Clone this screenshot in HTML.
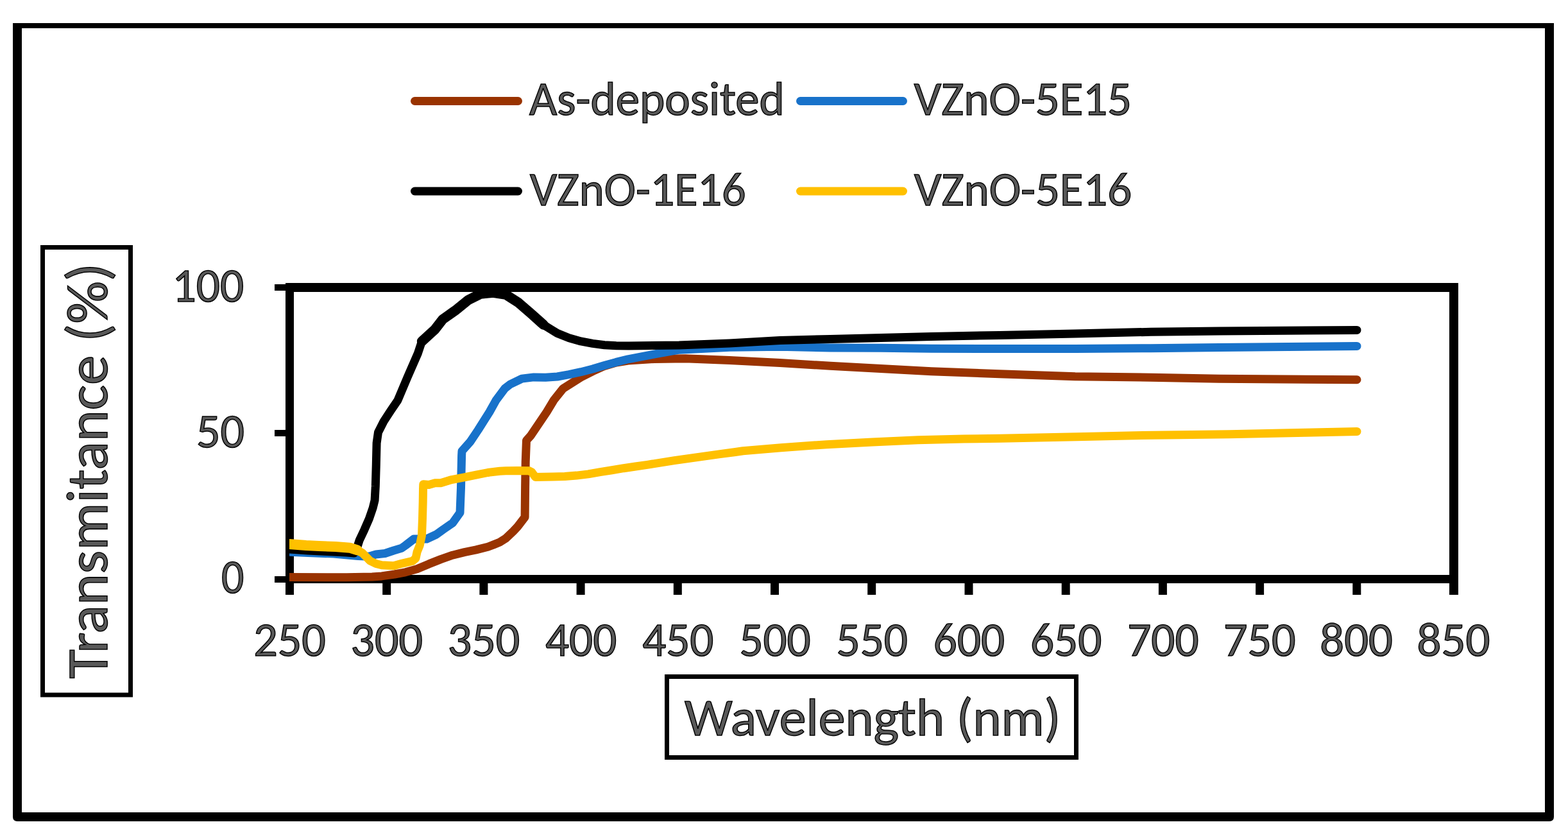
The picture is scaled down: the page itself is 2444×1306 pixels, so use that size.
<!DOCTYPE html>
<html><head><meta charset="utf-8"><title>Transmitance chart</title><style>html,body{margin:0;padding:0;background:#fff;overflow:hidden}svg{display:block}</style></head><body>
<svg width="2444" height="1306" viewBox="0 0 2444 1306">
<rect width="2444" height="1306" fill="#fff"/>
<path fill-rule="evenodd" fill="#000" d="M20,36 H2422 V1273 Q2422,1280 2415,1280 H27 Q20,1280 20,1273 Z M34,44 V1266 H2408 V44 Z"/>
<g stroke-linecap="round" stroke-width="13" fill="none">
<line x1="646.5" y1="157.5" x2="807.5" y2="157.5" stroke="#993300"/>
<line x1="1247.5" y1="157.5" x2="1407.5" y2="157.5" stroke="#1872CA"/>
<line x1="646.5" y1="298" x2="807.5" y2="298" stroke="#000000"/>
<line x1="1247.5" y1="298" x2="1407.5" y2="298" stroke="#FFC000"/>
</g>
<rect x="66.5" y="385.5" width="137" height="697.5" fill="none" stroke="#000" stroke-width="7"/>
<rect x="1039.5" y="1054.5" width="638" height="126" fill="none" stroke="#000" stroke-width="7"/>
<g fill="#000">
<rect x="445" y="441" width="1828" height="14"/>
<rect x="445" y="896" width="1828" height="13"/>
<rect x="445" y="441" width="13" height="486"/>
<rect x="2259" y="441" width="14" height="486"/>
<rect x="428" y="443" width="17" height="10"/>
<rect x="428" y="670" width="17" height="10"/>
<rect x="428" y="898" width="17" height="10"/>
<rect x="596.2" y="909" width="13" height="18"/>
<rect x="747.4" y="909" width="13" height="18"/>
<rect x="898.6" y="909" width="13" height="18"/>
<rect x="1049.8" y="909" width="13" height="18"/>
<rect x="1201.0" y="909" width="13" height="18"/>
<rect x="1352.2" y="909" width="13" height="18"/>
<rect x="1503.5" y="909" width="13" height="18"/>
<rect x="1654.7" y="909" width="13" height="18"/>
<rect x="1805.9" y="909" width="13" height="18"/>
<rect x="1957.1" y="909" width="13" height="18"/>
<rect x="2108.3" y="909" width="13" height="18"/>
</g>
<defs><clipPath id="pc"><rect x="451" y="400" width="1820" height="520"/></clipPath></defs>
<g clip-path="url(#pc)" fill="none" stroke-width="13" stroke-linecap="round" stroke-linejoin="round">
<polyline stroke="#993300" points="451,899.5 540,899.7 580,899 595,897.9 615,895 632,891.8 650,886.8 668.6,878.9 687,871.6 705.4,865.2 723.8,860.6 742.1,856.9 760.5,852.3 770,848.6 778.9,845 788.4,839 800,828 806.8,820.7 818.1,806 818.6,760 819.2,720 820.5,686.5 827.3,678.9 852.1,642.1 863.1,623.8 877.8,605.4 905.4,588 923.8,578.7 942.1,570.4 960.5,565 978.9,562 1019.3,559.5 1068.4,558.8 1137.1,561.5 1215.7,565.4 1294.2,570.3 1372.8,574.5 1451.4,578.8 1557.8,582.7 1675.7,586.8 1793.5,588.2 1900,590.3 2115,591.7"/>
<polyline stroke="#1872CA" points="451,860.3 480,861.5 520,863 558,866.5 575,867.3 586,864 600,862.5 613.5,858 626,854.3 632,850 645,840 665,840 680,833 691.1,825 705.4,815.2 712,806 717,799 718.5,760 719.6,710 720,703 733,688.4 745.3,670 763,642 773.1,623.8 786.9,605.4 795.1,599 813.5,590.1 831.9,587.9 850.3,588.3 868.6,587 887,583.7 905.4,579.7 923.8,575 942.1,569.5 960.5,564.4 978.9,559.8 1019.3,552.1 1058.6,545.2 1137.1,541.3 1215.7,540.3 1294.2,541.9 1372.8,542.3 1451.4,543.2 1557.8,543.6 1675.7,543.6 1793.5,542.7 1900,541.5 2115,539.4"/>
<polyline stroke="#000000" points="451,856 480,858 510,859.5 540,861 552,862 555,858 557.5,850.4 560.2,842 568.1,825.2 575.4,808.4 581.2,791.5 584.1,779.7 585.3,757.8 586.3,724.2 587.1,690.5 589.5,673.7 598.1,656.8 609,640 620,623.8 635.5,587 651.5,550.3 657.6,531.9 677.8,513.5 690,497.8 709.6,483.9 729.3,467.9 748.9,458 768.6,456 788.2,459 807.8,471.5 827.5,488.5 847.1,506.1 868.6,519.4 887,526.7 905.4,531.9 923.8,535.4 942.1,537.8 960.5,538.7 980,538.9 1058.6,538.1 1137.1,535 1215.7,530.5 1294.2,528.5 1372.8,526.4 1451.4,524.6 1557.8,522.4 1675.7,520.1 1793.5,517.3 1900,516.1 2115,514.5"/>
<polyline stroke="#000000" stroke-width="15.5" points="657.6,531.9 677.8,513.5 690,497.8 709.6,483.9 729.3,467.9 748.9,458 768.6,456 788.2,459 807.8,471.5 827.5,488.5 847.1,506.1"/>
<polyline stroke="#FFC000" points="451,848 477,850 497,851 523,852 545,853.7 557,857.4 565,862 576.8,874 586,878.5 595.1,880.8 613.5,881.7 626,878.3 643,874.4 648,870 650.1,860.1 654.3,849.7 657.5,834.1 658.5,808 659.2,782 659.5,762.5 659.8,754.7 668.6,755.5 678,752.8 687,752.7 704.1,747.6 723.8,743.9 742.1,740.2 760.5,736.5 778.9,734.3 788.4,733.8 806.8,733.4 825.1,733.8 829,736 834.5,743.5 861.9,743 880.3,742.6 898.6,741.1 917,738.9 935.4,735.6 953.8,732.8 972.1,729.7 990.5,727 1008.9,724.4 1051.2,717.6 1122.4,707.6 1146.1,704.5 1158,702.7 1217.3,697.7 1288.5,692.7 1359.7,688.9 1430.9,685.8 1502.1,684.1 1559,683.2 1678.7,680.8 1797.3,678.2 1916,676.8 2034.6,674.2 2115,672.5"/>
<polyline stroke="#FFC000" stroke-width="16" points="451,848 477,850 497,851 523,852 545,853.7 557,857.4"/>
</g>
<text id="leg1" font-family="Carlito, 'Liberation Sans', sans-serif" font-size="74.5" fill="#595959" stroke="#000" stroke-width="1.5" textLength="397.79" lengthAdjust="spacingAndGlyphs" x="825.0" y="179.0">As-deposited</text>
<text id="leg2" font-family="Carlito, 'Liberation Sans', sans-serif" font-size="74.5" fill="#595959" stroke="#000" stroke-width="1.5" textLength="339.13" lengthAdjust="spacingAndGlyphs" x="1424.8" y="179.0">VZnO-5E15</text>
<text id="leg3" font-family="Carlito, 'Liberation Sans', sans-serif" font-size="74.5" fill="#595959" stroke="#000" stroke-width="1.5" textLength="336.68" lengthAdjust="spacingAndGlyphs" x="826.0" y="319.6">VZnO-1E16</text>
<text id="leg4" font-family="Carlito, 'Liberation Sans', sans-serif" font-size="74.5" fill="#595959" stroke="#000" stroke-width="1.5" textLength="339.09" lengthAdjust="spacingAndGlyphs" x="1425.0" y="319.6">VZnO-5E16</text>
<text id="y100" font-family="Carlito, 'Liberation Sans', sans-serif" font-size="73.3" fill="#595959" stroke="#000" stroke-width="1.5" text-anchor="end" textLength="111.67" lengthAdjust="spacingAndGlyphs" x="380.2" y="469.6">100</text>
<text id="y50" font-family="Carlito, 'Liberation Sans', sans-serif" font-size="73.3" fill="#595959" stroke="#000" stroke-width="1.5" text-anchor="end" textLength="74.96" lengthAdjust="spacingAndGlyphs" x="381.0" y="696.7">50</text>
<text id="y0" font-family="Carlito, 'Liberation Sans', sans-serif" font-size="73.3" fill="#595959" stroke="#000" stroke-width="1.5" text-anchor="end" textLength="35.39" lengthAdjust="spacingAndGlyphs" x="380.4" y="923.8">0</text>
<text id="x250" font-family="Carlito, 'Liberation Sans', sans-serif" font-size="73.3" fill="#595959" stroke="#000" stroke-width="1.5" text-anchor="middle" textLength="112.50" lengthAdjust="spacingAndGlyphs" x="451.5" y="1022.0">250</text>
<text id="x300" font-family="Carlito, 'Liberation Sans', sans-serif" font-size="73.3" fill="#595959" stroke="#000" stroke-width="1.5" text-anchor="middle" textLength="112.50" lengthAdjust="spacingAndGlyphs" x="602.71" y="1022.0">300</text>
<text id="x350" font-family="Carlito, 'Liberation Sans', sans-serif" font-size="73.3" fill="#595959" stroke="#000" stroke-width="1.5" text-anchor="middle" textLength="112.50" lengthAdjust="spacingAndGlyphs" x="753.92" y="1022.0">350</text>
<text id="x400" font-family="Carlito, 'Liberation Sans', sans-serif" font-size="73.3" fill="#595959" stroke="#000" stroke-width="1.5" text-anchor="middle" textLength="111.32" lengthAdjust="spacingAndGlyphs" x="905.62" y="1022.0">400</text>
<text id="x450" font-family="Carlito, 'Liberation Sans', sans-serif" font-size="73.3" fill="#595959" stroke="#000" stroke-width="1.5" text-anchor="middle" textLength="111.32" lengthAdjust="spacingAndGlyphs" x="1056.83" y="1022.0">450</text>
<text id="x500" font-family="Carlito, 'Liberation Sans', sans-serif" font-size="73.3" fill="#595959" stroke="#000" stroke-width="1.5" text-anchor="middle" textLength="111.32" lengthAdjust="spacingAndGlyphs" x="1208.04" y="1022.0">500</text>
<text id="x550" font-family="Carlito, 'Liberation Sans', sans-serif" font-size="73.3" fill="#595959" stroke="#000" stroke-width="1.5" text-anchor="middle" textLength="111.32" lengthAdjust="spacingAndGlyphs" x="1359.25" y="1022.0">550</text>
<text id="x600" font-family="Carlito, 'Liberation Sans', sans-serif" font-size="73.3" fill="#595959" stroke="#000" stroke-width="1.5" text-anchor="middle" textLength="111.32" lengthAdjust="spacingAndGlyphs" x="1510.46" y="1022.0">600</text>
<text id="x650" font-family="Carlito, 'Liberation Sans', sans-serif" font-size="73.3" fill="#595959" stroke="#000" stroke-width="1.5" text-anchor="middle" textLength="111.32" lengthAdjust="spacingAndGlyphs" x="1661.67" y="1022.0">650</text>
<text id="x700" font-family="Carlito, 'Liberation Sans', sans-serif" font-size="73.3" fill="#595959" stroke="#000" stroke-width="1.5" text-anchor="middle" textLength="111.32" lengthAdjust="spacingAndGlyphs" x="1812.87" y="1022.0">700</text>
<text id="x750" font-family="Carlito, 'Liberation Sans', sans-serif" font-size="73.3" fill="#595959" stroke="#000" stroke-width="1.5" text-anchor="middle" textLength="112.72" lengthAdjust="spacingAndGlyphs" x="1963.28" y="1022.0">750</text>
<text id="x800" font-family="Carlito, 'Liberation Sans', sans-serif" font-size="73.3" fill="#595959" stroke="#000" stroke-width="1.5" text-anchor="middle" textLength="113.53" lengthAdjust="spacingAndGlyphs" x="2114.09" y="1022.0">800</text>
<text id="x850" font-family="Carlito, 'Liberation Sans', sans-serif" font-size="73.3" fill="#595959" stroke="#000" stroke-width="1.5" text-anchor="middle" textLength="113.98" lengthAdjust="spacingAndGlyphs" x="2265.5" y="1022.0">850</text>
<text id="xt" font-family="Carlito, 'Liberation Sans', sans-serif" font-size="82.5" fill="#595959" stroke="#000" stroke-width="1.5" textLength="586.11" lengthAdjust="spacingAndGlyphs" x="1067.0" y="1145.5">Wavelength (nm)</text>
<text id="yt" font-family="Carlito, 'Liberation Sans', sans-serif" font-size="90.5" fill="#595959" stroke="#000" stroke-width="1.5" textLength="647.38" lengthAdjust="spacingAndGlyphs" transform="translate(167,1057.4) rotate(-90)">Transmitance (%)</text>
</svg>
</body></html>
